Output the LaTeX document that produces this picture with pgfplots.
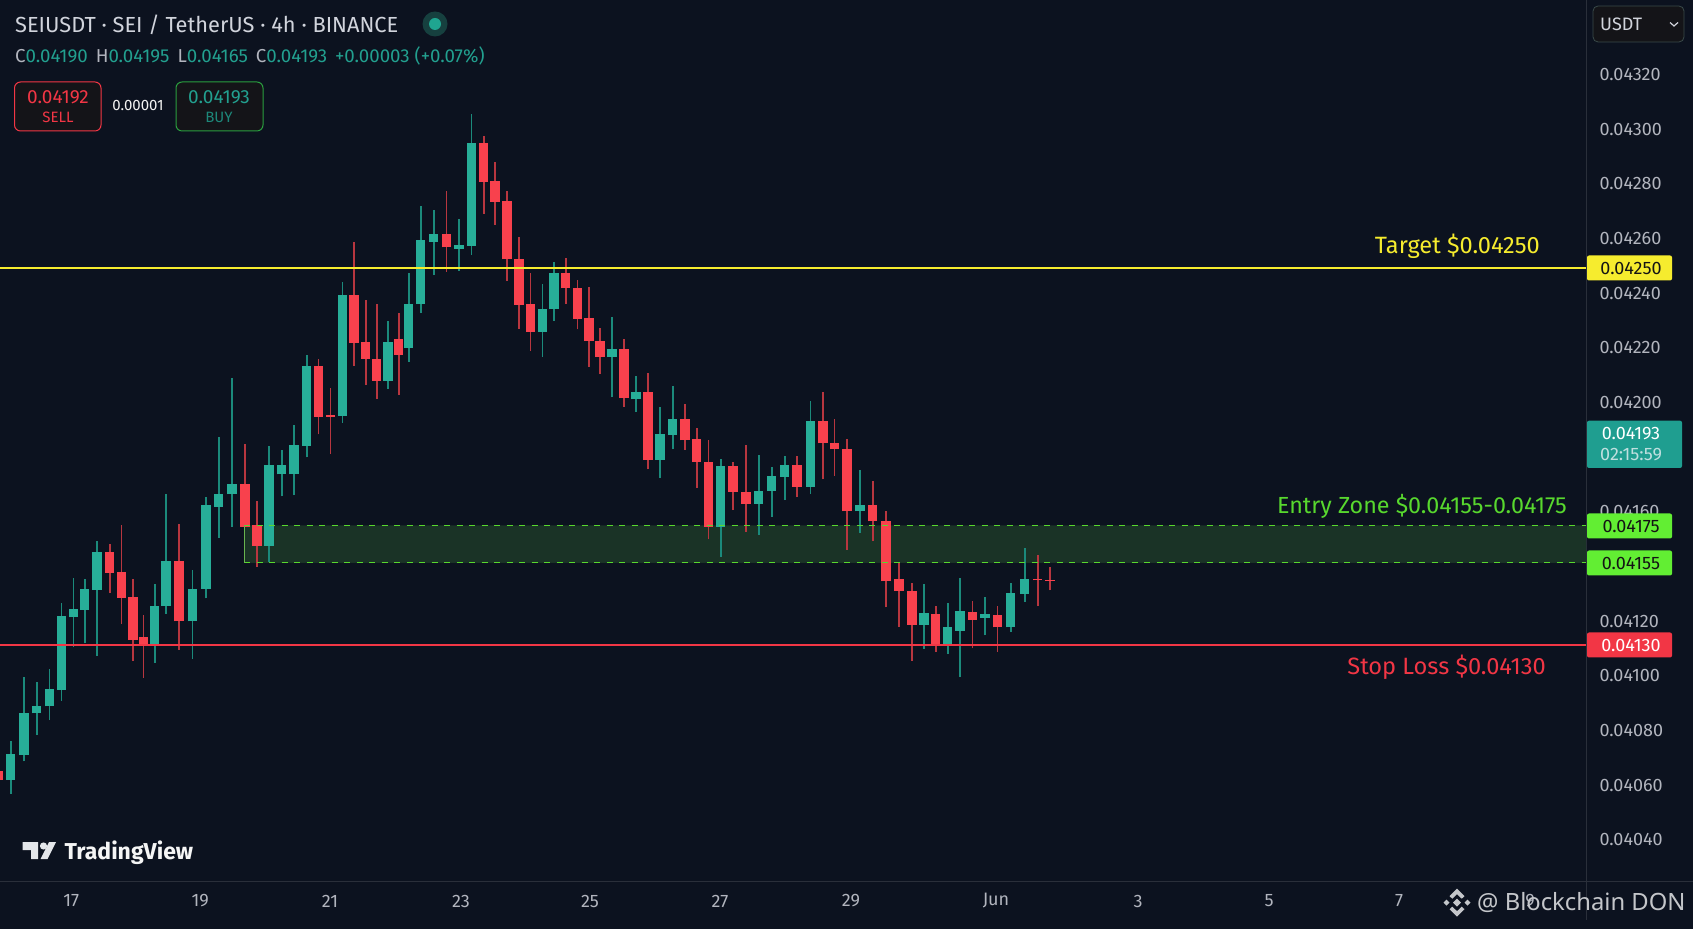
\documentclass[border=0pt]{standalone}
\usepackage{pgfplots}
\usepackage{pgfplotstable}
\usepackage{fontspec}
\pgfplotsset{compat=1.18}
\setmainfont{Fira Sans}
\newfontfamily\wmfont{Noto Sans}
\definecolor{bg}{HTML}{0C121F}
\definecolor{upbody}{HTML}{27AE98}
\definecolor{upwick}{HTML}{1B8A7B}
\definecolor{dnbody}{HTML}{F8414D}
\definecolor{dnwick}{HTML}{B8363F}
\definecolor{zonefill}{HTML}{1A3326}
\definecolor{zoneline}{HTML}{58D82E}
\definecolor{taggreen}{HTML}{62EE33}
\definecolor{tagyellow}{HTML}{F6EC2E}
\definecolor{tagred}{HTML}{F23645}
\definecolor{axisgrey}{HTML}{2A2F3A}
\definecolor{ticktxt}{HTML}{B2B5BE}
\definecolor{headtxt}{HTML}{D1D4DC}
\definecolor{tealtxt}{HTML}{22A08F}
\definecolor{halo}{HTML}{16403F}
\definecolor{dot}{HTML}{1FA590}
\definecolor{buyedge}{HTML}{2A9E3F}
\definecolor{boxedge}{HTML}{3A4A4A}
\definecolor{boxfill}{HTML}{141418}
\definecolor{tagteal}{HTML}{1F9E90}
\definecolor{tagdark}{HTML}{141414}
\definecolor{logoc}{HTML}{E4E6EA}
\definecolor{wmc}{HTML}{C4C6CA}
\pgfplotstableread{
x open high low close
10.7 0.040624 0.040768 0.040574 0.040718
24 0.040716 0.041002 0.040693 0.040869
36.7 0.040868 0.040985 0.040789 0.040896
49.3 0.040894 0.041032 0.040844 0.040958
61.3 0.040955 0.041272 0.040915 0.041224
73.3 0.041220 0.041363 0.041111 0.041249
84.7 0.041246 0.041360 0.041125 0.041323
97 0.041319 0.041499 0.041078 0.041460
154.7 0.041120 0.041343 0.041054 0.041262
166 0.041261 0.041670 0.041232 0.041424
192.3 0.041205 0.041392 0.041069 0.041324
206 0.041324 0.041659 0.041289 0.041629
218.7 0.041625 0.041880 0.041511 0.041672
232 0.041670 0.042095 0.041550 0.041709
269 0.041482 0.041845 0.041422 0.041778
281.7 0.041743 0.041833 0.041662 0.041778
294 0.041743 0.041922 0.041667 0.041849
306.7 0.041847 0.042178 0.041805 0.042139
342.3 0.041956 0.042445 0.041932 0.042398
388 0.042085 0.042304 0.042055 0.042225
408.7 0.042204 0.042478 0.042155 0.042366
420.7 0.042365 0.042724 0.042332 0.042600
433.7 0.042594 0.042710 0.042472 0.042621
459 0.042568 0.042675 0.042488 0.042583
471.3 0.042578 0.043061 0.042545 0.042953
542.3 0.042263 0.042439 0.042171 0.042349
554 0.042346 0.042518 0.042305 0.042479
612 0.042171 0.042320 0.042024 0.042201
636 0.042017 0.042102 0.041972 0.042045
660 0.041795 0.041988 0.041731 0.041889
672.7 0.041887 0.042067 0.041834 0.041944
720.7 0.041551 0.041797 0.041442 0.041772
758.7 0.041635 0.041812 0.041521 0.041682
771.7 0.041681 0.041771 0.041588 0.041735
784.7 0.041734 0.041810 0.041648 0.041778
810.3 0.041697 0.042012 0.041671 0.041939
860 0.041607 0.041759 0.041529 0.041629
924 0.041192 0.041342 0.041105 0.041234
947.7 0.041120 0.041271 0.041087 0.041184
960 0.041171 0.041362 0.041003 0.041242
985 0.041217 0.041293 0.041154 0.041231
1010.7 0.041183 0.041344 0.041166 0.041309
1024.7 0.041306 0.041472 0.041277 0.041361
}\upT
\pgfplotstableread{
x open high low close
-2 0.040658 0.040670 0.040610 0.040624
109.7 0.041460 0.041489 0.041308 0.041383
121.3 0.041387 0.041556 0.041195 0.041291
133 0.041293 0.041360 0.041061 0.041136
143.3 0.041146 0.041229 0.040999 0.041120
179 0.041424 0.041561 0.041101 0.041205
245 0.041709 0.041852 0.041553 0.041551
257 0.041556 0.041645 0.041405 0.041482
318.3 0.042139 0.042163 0.041889 0.041954
330.3 0.041961 0.042057 0.041817 0.041953
354 0.042398 0.042591 0.042139 0.042223
365.7 0.042225 0.042379 0.042069 0.042166
376.7 0.042166 0.042364 0.042018 0.042085
398.7 0.042236 0.042331 0.042032 0.042180
446.3 0.042621 0.042779 0.042484 0.042573
483.7 0.042953 0.042980 0.042695 0.042812
495 0.042814 0.042884 0.042655 0.042739
507 0.042741 0.042780 0.042451 0.042529
519 0.042530 0.042610 0.042276 0.042362
530.3 0.042365 0.042480 0.042193 0.042263
565.7 0.042479 0.042533 0.042365 0.042423
577.3 0.042424 0.042454 0.042273 0.042311
589 0.042313 0.042427 0.042137 0.042230
600 0.042232 0.042278 0.042110 0.042171
624 0.042201 0.042239 0.041990 0.042021
648 0.042044 0.042114 0.041761 0.041795
685 0.041944 0.042000 0.041832 0.041867
696.7 0.041871 0.041913 0.041692 0.041787
708.3 0.041788 0.041868 0.041505 0.041551
733 0.041772 0.041789 0.041612 0.041678
746 0.041679 0.041850 0.041533 0.041635
797 0.041778 0.041810 0.041659 0.041697
823 0.041939 0.042045 0.041724 0.041856
834.3 0.041858 0.041944 0.041737 0.041834
847 0.041837 0.041871 0.041466 0.041607
872.7 0.041629 0.041720 0.041498 0.041571
886 0.041572 0.041607 0.041256 0.041351
899 0.041359 0.041423 0.041185 0.041316
912 0.041317 0.041344 0.041060 0.041192
935.7 0.041233 0.041260 0.041094 0.041119
972.3 0.041240 0.041281 0.041106 0.041210
997.3 0.041228 0.041260 0.041093 0.041183
1037.7 0.041361 0.041446 0.041261 0.041355
1050 0.041357 0.041405 0.041318 0.041354
}\dnT
\pgfplotsset{candle/.style={draw=none, no markers, forget plot, error bars/.cd, y dir=plus, y explicit, error mark=none, error bar style={#1}}}
\begin{document}
\begin{tikzpicture}
\useasboundingbox (0,0) rectangle (1693pt,929pt);
\fill[bg] (0,0) rectangle (1693pt,929pt);
\begin{axis}[
  at={(0pt,48pt)}, anchor=south west,
  width=1586pt, height=881pt, scale only axis,
  xmin=0, xmax=1586, ymin=0.0402553, ymax=0.0434777,
  axis x line*=bottom, axis y line*=right,
  axis line style={draw=axisgrey, line width=1pt, -},
  major tick length=0pt,
  xtick={71.3,200.3,330,461,590,720,851,996,1138,1269,1399,1530},
  xticklabels={17,19,21,23,25,27,29,Jun,3,5,7,9},
  ytick={0.0404,0.0406,0.0408,0.041,0.0412,0.0414,0.0416,0.0418,0.042,0.0422,0.0424,0.0426,0.0428,0.043,0.0432},
  scaled y ticks=false,
  y tick label style={/pgf/number format/fixed, /pgf/number format/fixed zerofill, /pgf/number format/precision=5, /pgf/number format/assume math mode=true, anchor=west, xshift=10pt, yshift=1.5pt},
  tick label style={text=ticktxt, font=\fontsize{18}{20}\selectfont},
  x tick label style={anchor=center, yshift=-20pt},
]
% entry zone
\addplot[fill=zonefill, draw=none, forget plot] coordinates {(244,0.041419) (1586,0.041419) (1586,0.041556) (244,0.041556) (244,0.041419)};
% wicks
\addplot[candle={draw=upwick, line width=1.6pt}]
  table[x=x, y=low, y error plus expr=\thisrow{high}-\thisrow{low}] {\upT};
\addplot[candle={draw=dnwick, line width=1.6pt}]
  table[x=x, y=low, y error plus expr=\thisrow{high}-\thisrow{low}] {\dnT};
% bodies
\addplot[candle={draw=upbody, line width=9.3pt}]
  table[x=x, y=open, y error plus expr=\thisrow{close}-\thisrow{open}] {\upT};
\addplot[candle={draw=dnbody, line width=9.3pt}]
  table[x=x, y=close, y error plus expr=\thisrow{open}-\thisrow{close}] {\dnT};
% levels
\addplot[draw=zoneline, line width=1.3pt, dash pattern=on 6pt off 6.5pt, forget plot] coordinates {(244,0.041556) (1586,0.041556)};
\addplot[draw=zoneline, line width=1.3pt, dash pattern=on 6pt off 6.5pt, forget plot] coordinates {(244,0.041419) (1586,0.041419)};
\addplot[draw=zoneline!60!gray, line width=0.8pt, forget plot] coordinates {(244,0.041419) (244,0.041556)};
\addplot[draw=tagyellow, line width=2pt, forget plot] coordinates {(0,0.042498) (1586,0.042498)};
\addplot[draw=tagred, line width=2pt, forget plot] coordinates {(0,0.041119) (1586,0.041119)};
\end{axis}
\begin{scope}[x=1pt,y=-1pt,yshift=929pt]
% frame lines beyond the axis
\draw[axisgrey, line width=1pt] (1586,881) -- (1693,881);
\draw[axisgrey, line width=1pt] (1586,881) -- (1586,920);
% header
\node[anchor=west, inner sep=0, text=headtxt, font=\fontsize{21.8}{24}\selectfont] at (15,25) {SEIUSDT · SEI / TetherUS · 4h · BINANCE};
\fill[halo] (435,24) circle (12.5);
\fill[dot] (435,24) circle (6);
\node[anchor=west, inner sep=0, font=\fontsize{18.7}{22}\selectfont] at (15,56) {\textcolor{ticktxt}{C}\textcolor{tealtxt}{0.04190}\hspace{8pt}\textcolor{ticktxt}{H}\textcolor{tealtxt}{0.04195}\hspace{8pt}\textcolor{ticktxt}{L}\textcolor{tealtxt}{0.04165}\hspace{8pt}\textcolor{ticktxt}{C}\textcolor{tealtxt}{0.04193}\hspace{8pt}\textcolor{tealtxt}{+0.00003 (+0.07\%)}};
% sell / buy
\draw[tagred, line width=1pt, fill=boxfill, rounded corners=6] (14.5,82) rectangle (101,131);
\node[text=tagred, inner sep=0, font=\fontsize{19}{22}\selectfont] at (58,97.5) {0.04192};
\node[text=tagred, inner sep=0, font=\fontsize{15}{18}\selectfont] at (58,117) {SELL};
\node[text=white!90!gray, inner sep=0, font=\fontsize{15}{18}\selectfont] at (138,106) {0.00001};
\draw[buyedge, line width=1pt, fill=boxfill, rounded corners=6] (176,82) rectangle (263,131);
\node[text=tealtxt, inner sep=0, font=\fontsize{19}{22}\selectfont] at (219,97.5) {0.04193};
\node[text=tealtxt!85!black, inner sep=0, font=\fontsize{15}{18}\selectfont] at (219,117) {BUY};
% currency box
\draw[boxedge, line width=0.8pt, fill=boxfill, rounded corners=5] (1593,6) rectangle (1684,42);
\node[anchor=west, inner sep=0, text=headtxt, font=\fontsize{18}{20}\selectfont] at (1600,24) {USDT};
\draw[headtxt, line width=1.2pt] (1670,22.5) -- (1674,26) -- (1678,22.5);
% text labels
\node[anchor=east, inner sep=0, text=tagyellow, font=\fontsize{23.6}{26}\selectfont] at (1540,246) {Target \$0.04250};
\node[anchor=east, inner sep=0, text=zoneline, font=\fontsize{23.3}{26}\selectfont] at (1567,506.5) {Entry Zone \$0.04155-0.04175};
\node[anchor=east, inner sep=0, text=tagred, font=\fontsize{23.6}{26}\selectfont] at (1546,667.5) {Stop Loss \$0.04130};
% price tags
\fill[tagyellow, rounded corners=2] (1587,255.5) rectangle (1672,280.5);
\node[text=tagdark, inner sep=0, font=\fontsize{18}{20}\selectfont] at (1631,268.5) {0.04250};
\fill[taggreen, rounded corners=2] (1587,513.5) rectangle (1672,538.5);
\node[text=tagdark, inner sep=0, font=\fontsize{18}{20}\selectfont] at (1631,526.5) {0.04175};
\fill[taggreen, rounded corners=2] (1587,550.5) rectangle (1672,575.5);
\node[text=tagdark, inner sep=0, font=\fontsize{18}{20}\selectfont] at (1631,563.5) {0.04155};
\fill[tagred, rounded corners=2] (1587,632.5) rectangle (1672,657.5);
\node[text=white, inner sep=0, font=\fontsize{18}{20}\selectfont] at (1631,645.5) {0.04130};
\fill[tagteal, rounded corners=2] (1587,420.7) rectangle (1682,468);
\node[text=white, inner sep=0, font=\fontsize{18}{20}\selectfont] at (1631,434) {0.04193};
\node[anchor=west, text=white!75!teal, inner sep=0, font=\fontsize{18}{20}\selectfont] at (1600,455) {02:15:59};
% TradingView logo
\fill[logoc] (22.7,842) -- (38,842) -- (38,859) -- (31,859) -- (31,850) -- (22.7,850) -- cycle;
\fill[logoc] (43.5,846) circle (3.6);
\fill[logoc] (49,842) -- (56,842) -- (47.5,859) -- (40.5,859) -- cycle;
\node[anchor=west, inner sep=0, text=white!92!gray, font=\fontsize{23}{26}\selectfont\fontseries{sb}\selectfont] at (64.5,852.5) {TradingView};
% watermark
\begin{scope}[shift={(1457,902.7)}]
\fill[wmc] (-13.5,0) -- (-10.5,-3) -- (-7.5,0) -- (-10.5,3) -- cycle;
\fill[wmc] (13.5,0) -- (10.5,-3) -- (7.5,0) -- (10.5,3) -- cycle;
\fill[wmc] (-4,0) -- (0,-4) -- (4,0) -- (0,4) -- cycle;
\fill[wmc] (0,-14) -- (7.5,-6.5) -- (4.7,-4) -- (0,-8.5) -- (-4.7,-4) -- (-7.5,-6.5) -- cycle;
\fill[wmc] (0,14) -- (7.5,6.5) -- (4.7,4) -- (0,8.5) -- (-4.7,4) -- (-7.5,6.5) -- cycle;
\end{scope}
\node[anchor=west, inner sep=0, text=wmc, font=\wmfont\fontsize{23.8}{30}\selectfont] at (1477,902.7) {@ Blockchain DON};
\end{scope}
\end{tikzpicture}
\end{document}
